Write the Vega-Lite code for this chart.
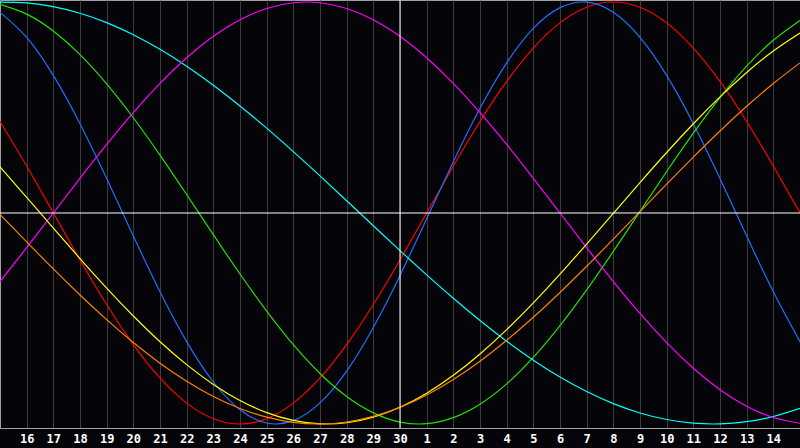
{
  "$schema": "https://vega.github.io/schema/vega-lite/v6.json",
  "width": 800,
  "height": 428,
  "autosize": "none",
  "padding": {"left": 0, "top": 0, "right": 0, "bottom": 20},
  "background": "#050408",
  "config": {
    "view": {"fill": "#050408", "stroke": "#a0a0a0", "strokeWidth": 1},
    "axis": {
      "gridColor": "#3c3c3c",
      "gridOpacity": 1,
      "domainColor": "#a0a0a0",
      "ticks": false,
      "labelColor": "#ffffff",
      "labelFont": "DejaVu Sans Mono",
      "labelFontWeight": "bold",
      "labelFontSize": 12,
      "labelPadding": 5,
      "labelOverlap": false,
      "labelFlush": false
    }
  },
  "layer": [
    {
      "data": {
        "values": [
          {"s": "Emotional", "d": 0, "v": 0.4339}, {"s": "Emotional", "d": 1, "v": 0.2225}, {"s": "Emotional", "d": 2, "v": 0},
          {"s": "Emotional", "d": 3, "v": -0.2225}, {"s": "Emotional", "d": 4, "v": -0.4339}, {"s": "Emotional", "d": 5, "v": -0.6235},
          {"s": "Emotional", "d": 6, "v": -0.7818}, {"s": "Emotional", "d": 7, "v": -0.901}, {"s": "Emotional", "d": 8, "v": -0.9749},
          {"s": "Emotional", "d": 9, "v": -1}, {"s": "Emotional", "d": 10, "v": -0.9749}, {"s": "Emotional", "d": 11, "v": -0.901},
          {"s": "Emotional", "d": 12, "v": -0.7818}, {"s": "Emotional", "d": 13, "v": -0.6235}, {"s": "Emotional", "d": 14, "v": -0.4339},
          {"s": "Emotional", "d": 15, "v": -0.2225}, {"s": "Emotional", "d": 16, "v": 0}, {"s": "Emotional", "d": 17, "v": 0.2225},
          {"s": "Emotional", "d": 18, "v": 0.4339}, {"s": "Emotional", "d": 19, "v": 0.6235}, {"s": "Emotional", "d": 20, "v": 0.7818},
          {"s": "Emotional", "d": 21, "v": 0.901}, {"s": "Emotional", "d": 22, "v": 0.9749}, {"s": "Emotional", "d": 23, "v": 1},
          {"s": "Emotional", "d": 24, "v": 0.9749}, {"s": "Emotional", "d": 25, "v": 0.901}, {"s": "Emotional", "d": 26, "v": 0.7818},
          {"s": "Emotional", "d": 27, "v": 0.6235}, {"s": "Emotional", "d": 28, "v": 0.4339}, {"s": "Emotional", "d": 29, "v": 0.2225},
          {"s": "Emotional", "d": 30, "v": 0},

          {"s": "Physical", "d": 0, "v": 0.951}, {"s": "Physical", "d": 1, "v": 0.8324}, {"s": "Physical", "d": 2, "v": 0.652},
          {"s": "Physical", "d": 3, "v": 0.4233}, {"s": "Physical", "d": 4, "v": 0.1632}, {"s": "Physical", "d": 5, "v": -0.109},
          {"s": "Physical", "d": 6, "v": -0.3733}, {"s": "Physical", "d": 7, "v": -0.6096}, {"s": "Physical", "d": 8, "v": -0.801},
          {"s": "Physical", "d": 9, "v": -0.9327}, {"s": "Physical", "d": 10, "v": -0.9954}, {"s": "Physical", "d": 11, "v": -0.9843},
          {"s": "Physical", "d": 12, "v": -0.9001}, {"s": "Physical", "d": 13, "v": -0.7493}, {"s": "Physical", "d": 14, "v": -0.5427},
          {"s": "Physical", "d": 15, "v": -0.296}, {"s": "Physical", "d": 16, "v": -0.0272}, {"s": "Physical", "d": 17, "v": 0.2434},
          {"s": "Physical", "d": 18, "v": 0.4961}, {"s": "Physical", "d": 19, "v": 0.7117}, {"s": "Physical", "d": 20, "v": 0.875},
          {"s": "Physical", "d": 21, "v": 0.9732}, {"s": "Physical", "d": 22, "v": 0.9992}, {"s": "Physical", "d": 23, "v": 0.951},
          {"s": "Physical", "d": 24, "v": 0.8324}, {"s": "Physical", "d": 25, "v": 0.652}, {"s": "Physical", "d": 26, "v": 0.4233},
          {"s": "Physical", "d": 27, "v": 0.1632}, {"s": "Physical", "d": 28, "v": -0.109}, {"s": "Physical", "d": 29, "v": -0.3733},
          {"s": "Physical", "d": 30, "v": -0.6096},

          {"s": "Intellectual", "d": 0, "v": 0.9887}, {"s": "Intellectual", "d": 1, "v": 0.9425}, {"s": "Intellectual", "d": 2, "v": 0.8622},
          {"s": "Intellectual", "d": 3, "v": 0.7507}, {"s": "Intellectual", "d": 4, "v": 0.6121}, {"s": "Intellectual", "d": 5, "v": 0.4515},
          {"s": "Intellectual", "d": 6, "v": 0.2744}, {"s": "Intellectual", "d": 7, "v": 0.0875}, {"s": "Intellectual", "d": 8, "v": -0.1026},
          {"s": "Intellectual", "d": 9, "v": -0.289}, {"s": "Intellectual", "d": 10, "v": -0.465}, {"s": "Intellectual", "d": 11, "v": -0.6241},
          {"s": "Intellectual", "d": 12, "v": -0.7607}, {"s": "Intellectual", "d": 13, "v": -0.8698}, {"s": "Intellectual", "d": 14, "v": -0.9474},
          {"s": "Intellectual", "d": 15, "v": -0.9909}, {"s": "Intellectual", "d": 16, "v": -0.9985}, {"s": "Intellectual", "d": 17, "v": -0.97},
          {"s": "Intellectual", "d": 18, "v": -0.9064}, {"s": "Intellectual", "d": 19, "v": -0.8101}, {"s": "Intellectual", "d": 20, "v": -0.6845},
          {"s": "Intellectual", "d": 21, "v": -0.5342}, {"s": "Intellectual", "d": 22, "v": -0.3646}, {"s": "Intellectual", "d": 23, "v": -0.1817},
          {"s": "Intellectual", "d": 24, "v": 0.0077}, {"s": "Intellectual", "d": 25, "v": 0.1966}, {"s": "Intellectual", "d": 26, "v": 0.3787},
          {"s": "Intellectual", "d": 27, "v": 0.547}, {"s": "Intellectual", "d": 28, "v": 0.6959}, {"s": "Intellectual", "d": 29, "v": 0.8189},
          {"s": "Intellectual", "d": 30, "v": 0.9128},

          {"s": "Spiritual", "d": 0, "v": 0.9996}, {"s": "Spiritual", "d": 1, "v": 0.9959}, {"s": "Spiritual", "d": 2, "v": 0.9783},
          {"s": "Spiritual", "d": 3, "v": 0.9469}, {"s": "Spiritual", "d": 4, "v": 0.9023}, {"s": "Spiritual", "d": 5, "v": 0.845},
          {"s": "Spiritual", "d": 6, "v": 0.7757}, {"s": "Spiritual", "d": 7, "v": 0.6958}, {"s": "Spiritual", "d": 8, "v": 0.6059},
          {"s": "Spiritual", "d": 9, "v": 0.5075}, {"s": "Spiritual", "d": 10, "v": 0.4021}, {"s": "Spiritual", "d": 11, "v": 0.2909},
          {"s": "Spiritual", "d": 12, "v": 0.1757}, {"s": "Spiritual", "d": 13, "v": 0.0581}, {"s": "Spiritual", "d": 14, "v": -0.0604},
          {"s": "Spiritual", "d": 15, "v": -0.1781}, {"s": "Spiritual", "d": 16, "v": -0.2932}, {"s": "Spiritual", "d": 17, "v": -0.4042},
          {"s": "Spiritual", "d": 18, "v": -0.5095}, {"s": "Spiritual", "d": 19, "v": -0.6078}, {"s": "Spiritual", "d": 20, "v": -0.6975},
          {"s": "Spiritual", "d": 21, "v": -0.7774}, {"s": "Spiritual", "d": 22, "v": -0.8462}, {"s": "Spiritual", "d": 23, "v": -0.9033},
          {"s": "Spiritual", "d": 24, "v": -0.9477}, {"s": "Spiritual", "d": 25, "v": -0.9788}, {"s": "Spiritual", "d": 26, "v": -0.9962},
          {"s": "Spiritual", "d": 27, "v": -0.9995}, {"s": "Spiritual", "d": 28, "v": -0.9889}, {"s": "Spiritual", "d": 29, "v": -0.9643},
          {"s": "Spiritual", "d": 30, "v": -0.9262},

          {"s": "Intuitive", "d": 0, "v": -0.3247}, {"s": "Intuitive", "d": 1, "v": -0.1646}, {"s": "Intuitive", "d": 2, "v": 0},
          {"s": "Intuitive", "d": 3, "v": 0.1646}, {"s": "Intuitive", "d": 4, "v": 0.3247}, {"s": "Intuitive", "d": 5, "v": 0.4759},
          {"s": "Intuitive", "d": 6, "v": 0.6142}, {"s": "Intuitive", "d": 7, "v": 0.7357}, {"s": "Intuitive", "d": 8, "v": 0.8372},
          {"s": "Intuitive", "d": 9, "v": 0.9158}, {"s": "Intuitive", "d": 10, "v": 0.9694}, {"s": "Intuitive", "d": 11, "v": 0.9966},
          {"s": "Intuitive", "d": 12, "v": 0.9966}, {"s": "Intuitive", "d": 13, "v": 0.9694}, {"s": "Intuitive", "d": 14, "v": 0.9158},
          {"s": "Intuitive", "d": 15, "v": 0.8372}, {"s": "Intuitive", "d": 16, "v": 0.7357}, {"s": "Intuitive", "d": 17, "v": 0.6142},
          {"s": "Intuitive", "d": 18, "v": 0.4759}, {"s": "Intuitive", "d": 19, "v": 0.3247}, {"s": "Intuitive", "d": 20, "v": 0.1646},
          {"s": "Intuitive", "d": 21, "v": 0}, {"s": "Intuitive", "d": 22, "v": -0.1646}, {"s": "Intuitive", "d": 23, "v": -0.3247},
          {"s": "Intuitive", "d": 24, "v": -0.4759}, {"s": "Intuitive", "d": 25, "v": -0.6142}, {"s": "Intuitive", "d": 26, "v": -0.7357},
          {"s": "Intuitive", "d": 27, "v": -0.8372}, {"s": "Intuitive", "d": 28, "v": -0.9158}, {"s": "Intuitive", "d": 29, "v": -0.9694},
          {"s": "Intuitive", "d": 30, "v": -0.9966},

          {"s": "Aesthetic", "d": 0, "v": 0.2188}, {"s": "Aesthetic", "d": 1, "v": 0.0745}, {"s": "Aesthetic", "d": 2, "v": -0.0715},
          {"s": "Aesthetic", "d": 3, "v": -0.2159}, {"s": "Aesthetic", "d": 4, "v": -0.3559}, {"s": "Aesthetic", "d": 5, "v": -0.4881},
          {"s": "Aesthetic", "d": 6, "v": -0.61}, {"s": "Aesthetic", "d": 7, "v": -0.7187}, {"s": "Aesthetic", "d": 8, "v": -0.8124},
          {"s": "Aesthetic", "d": 9, "v": -0.8887}, {"s": "Aesthetic", "d": 10, "v": -0.946}, {"s": "Aesthetic", "d": 11, "v": -0.9831},
          {"s": "Aesthetic", "d": 12, "v": -0.9993}, {"s": "Aesthetic", "d": 13, "v": -0.9942}, {"s": "Aesthetic", "d": 14, "v": -0.9678},
          {"s": "Aesthetic", "d": 15, "v": -0.9209}, {"s": "Aesthetic", "d": 16, "v": -0.8544}, {"s": "Aesthetic", "d": 17, "v": -0.7695},
          {"s": "Aesthetic", "d": 18, "v": -0.6683}, {"s": "Aesthetic", "d": 19, "v": -0.5529}, {"s": "Aesthetic", "d": 20, "v": -0.4258},
          {"s": "Aesthetic", "d": 21, "v": -0.2895}, {"s": "Aesthetic", "d": 22, "v": -0.1471}, {"s": "Aesthetic", "d": 23, "v": -0.0014},
          {"s": "Aesthetic", "d": 24, "v": 0.1442}, {"s": "Aesthetic", "d": 25, "v": 0.2867}, {"s": "Aesthetic", "d": 26, "v": 0.4231},
          {"s": "Aesthetic", "d": 27, "v": 0.5505}, {"s": "Aesthetic", "d": 28, "v": 0.6662}, {"s": "Aesthetic", "d": 29, "v": 0.7678},
          {"s": "Aesthetic", "d": 30, "v": 0.8528},

          {"s": "Awareness", "d": 0, "v": -0.0065}, {"s": "Awareness", "d": 1, "v": -0.137}, {"s": "Awareness", "d": 2, "v": -0.2651},
          {"s": "Awareness", "d": 3, "v": -0.3887}, {"s": "Awareness", "d": 4, "v": -0.5056}, {"s": "Awareness", "d": 5, "v": -0.6139},
          {"s": "Awareness", "d": 6, "v": -0.7116}, {"s": "Awareness", "d": 7, "v": -0.7973}, {"s": "Awareness", "d": 8, "v": -0.8693},
          {"s": "Awareness", "d": 9, "v": -0.9263}, {"s": "Awareness", "d": 10, "v": -0.9676}, {"s": "Awareness", "d": 11, "v": -0.9923},
          {"s": "Awareness", "d": 12, "v": -1}, {"s": "Awareness", "d": 13, "v": -0.9906}, {"s": "Awareness", "d": 14, "v": -0.9642},
          {"s": "Awareness", "d": 15, "v": -0.9214}, {"s": "Awareness", "d": 16, "v": -0.8628}, {"s": "Awareness", "d": 17, "v": -0.7894},
          {"s": "Awareness", "d": 18, "v": -0.7024}, {"s": "Awareness", "d": 19, "v": -0.6032}, {"s": "Awareness", "d": 20, "v": -0.4942},
          {"s": "Awareness", "d": 21, "v": -0.3766}, {"s": "Awareness", "d": 22, "v": -0.2525}, {"s": "Awareness", "d": 23, "v": -0.124},
          {"s": "Awareness", "d": 24, "v": 0.0065}, {"s": "Awareness", "d": 25, "v": 0.137}, {"s": "Awareness", "d": 26, "v": 0.2651},
          {"s": "Awareness", "d": 27, "v": 0.3887}, {"s": "Awareness", "d": 28, "v": 0.5056}, {"s": "Awareness", "d": 29, "v": 0.6139},
          {"s": "Awareness", "d": 30, "v": 0.7116}
        ]
      },
      "mark": {"type": "line", "interpolate": "natural", "strokeWidth": 1.2, "clip": true},
      "encoding": {
        "x": {
          "field": "d",
          "type": "quantitative",
          "scale": {"domain": [0, 30], "nice": false, "zero": false},
          "axis": {
            "values": [1, 2, 3, 4, 5, 6, 7, 8, 9, 10, 11, 12, 13, 14, 15, 16, 17, 18, 19, 20, 21, 22, 23, 24, 25, 26, 27, 28, 29],
            "tickCount": 30,
            "labelExpr": "datum.value <= 15 ? datum.value + 15 : datum.value - 15",
            "labelOverlap": false,
            "labelBound": false,
            "grid": true,
            "title": null
          }
        },
        "y": {
          "field": "v",
          "type": "quantitative",
          "scale": {"domain": [-1.019, 1.0095], "nice": false, "zero": false},
          "axis": null
        },
        "color": {
          "field": "s",
          "type": "nominal",
          "scale": {
            "domain": ["Spiritual", "Intuitive", "Aesthetic", "Awareness", "Intellectual", "Physical", "Emotional"],
            "range": ["#00ffff", "#ff00ff", "#ffff00", "#ff8000", "#22e000", "#1f6fff", "#ff0000"]
          },
          "legend": null
        }
      }
    },
    {
      "data": {"values": [{}]},
      "mark": {"type": "rule", "color": "#ffffff", "strokeWidth": 1},
      "encoding": {"x": {"datum": 15, "type": "quantitative"}}
    },
    {
      "data": {"values": [{}]},
      "mark": {"type": "rule", "color": "#ffffff", "strokeWidth": 1},
      "encoding": {"y": {"datum": 0, "type": "quantitative"}}
    }
  ]
}
